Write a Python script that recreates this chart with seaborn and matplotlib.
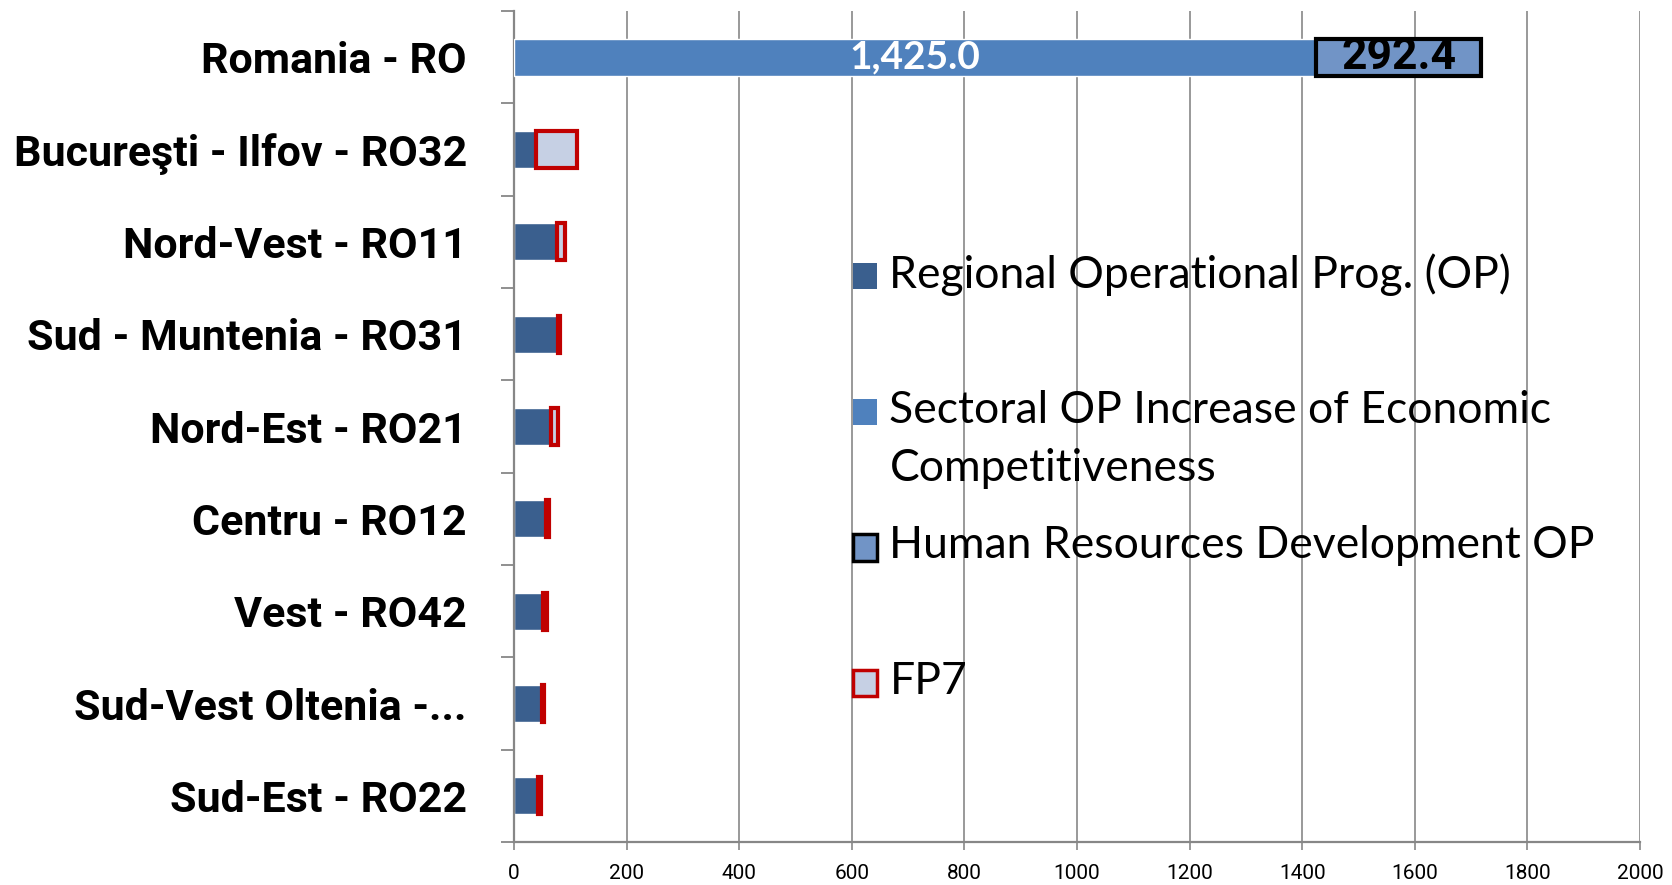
import matplotlib
matplotlib.use("Agg")
import matplotlib.pyplot as plt
from matplotlib.patches import Patch, Rectangle
from matplotlib.legend_handler import HandlerPatch
import numpy as np
import pandas as pd
import seaborn as sns

regions = ["Romania - RO", "Bucureşti - Ilfov - RO32", "Nord-Vest - RO11",
           "Sud - Muntenia - RO31", "Nord-Est - RO21", "Centru - RO12",
           "Vest - RO42", "Sud-Vest Oltenia -...", "Sud-Est - RO22"]
regional_op = [0, 38.5, 77, 78, 65, 56, 52, 49, 43]
sectoral_op = [1425.0, 0, 0, 0, 0, 0, 0, 0, 0]
hrd_op = [292.4, 0, 0, 0, 0, 0, 0, 0, 0]
fp7 = [0, 73, 13.5, 3.5, 13.5, 6, 7, 3.5, 4.8]

series_names = ["Regional Operational Prog. (OP)",
                "Sectoral OP Increase of Economic\nCompetitiveness",
                "Human Resources Development OP",
                "FP7"]
x_ticks = list(range(0, 2001, 200))

C_REG = "#3A5F8E"
C_SECT = "#4F81BD"
C_HRD = "#7194C6"
C_FP7 = "#C6D0E4"
C_RED = "#C00000"
C_GRID = "#878787"

sns.set_theme(style="white")
plt.rcParams["font.family"] = ["Lato", "DejaVu Sans"]
plt.rcParams["text.color"] = "black"
BOLD_FONT = ["Roboto", "DejaVu Sans"]

fig = plt.figure(figsize=(16.72, 8.85), dpi=100)
ax = fig.add_axes([514 / 1672, 1 - 842 / 885, (1640 - 514) / 1672, (842 - 11) / 885])

df = pd.DataFrame({"region": regions, "regional": regional_op})
sns.barplot(data=df, x="regional", y="region", color=C_REG, saturation=1,
            width=0.4, orient="y", ax=ax)

ypos = np.arange(len(regions))
left = np.array(regional_op, dtype=float)

sect = np.array(sectoral_op)
m = sect > 0
bars_s = ax.barh(ypos[m], sect[m], left=left[m], height=0.4, color=C_SECT, zorder=3)
left += sect

hrd = np.array(hrd_op)
m = hrd > 0
bars_h = ax.barh(ypos[m], hrd[m], left=left[m], height=0.4, color=C_HRD,
                 edgecolor="black", linewidth=3, zorder=3)
left += hrd

fp = np.array(fp7)
m = fp > 0
ax.barh(ypos[m], fp[m], left=left[m], height=0.4, color=C_FP7,
        edgecolor=C_RED, linewidth=3, zorder=3)

ax.bar_label(bars_s, labels=[f"{v:,.1f}" for v in sect[sect > 0]], label_type="center",
             color="white", fontweight="bold", fontsize=28)
ax.bar_label(bars_h, labels=[f"{v:.1f}" for v in hrd[hrd > 0]], label_type="center",
             color="black", fontweight="bold", fontsize=32, family=BOLD_FONT)

ax.set_xlim(0, 2000)
ax.set_ylim(len(regions) - 0.5, -0.5)
ax.set_xticks(x_ticks)
ax.set_xlabel("")
ax.set_ylabel("")
ax.xaxis.grid(True, color=C_GRID, linewidth=1.2)
ax.set_axisbelow(True)
for s in ["top", "right"]:
    ax.spines[s].set_visible(False)
for s in ["left", "bottom"]:
    ax.spines[s].set_color(C_GRID)
    ax.spines[s].set_linewidth(1.6)

ax.set_yticks(np.arange(-0.5, len(regions), 1), minor=True)
ax.tick_params(axis="y", which="major", length=0, pad=34, labelsize=31, labelcolor="black")
ax.tick_params(axis="y", which="minor", left=True, length=9.5, width=1.3, color=C_GRID)
ax.tick_params(axis="x", which="major", bottom=True, length=6, width=1.2, color=C_GRID,
               pad=10, labelsize=15, labelcolor="black")
for lab in ax.get_yticklabels():
    lab.set_family(BOLD_FONT)
    lab.set_fontweight("bold")
for lab in ax.get_xticklabels():
    lab.set_family(BOLD_FONT)


def shifted_square(legend, orig_handle, xdescent, ydescent, width, height, fontsize):
    return Rectangle((-xdescent, -ydescent + 0.63 * fontsize), width, height)


handles = [Patch(facecolor=C_REG, edgecolor="none"),
           Patch(facecolor=C_SECT, edgecolor="none"),
           Patch(facecolor=C_HRD, edgecolor="black", linewidth=2.5),
           Patch(facecolor=C_FP7, edgecolor=C_RED, linewidth=2.5)]
labels = [n if "\n" in n else n + "\n" for n in series_names]
leg = fig.legend(handles, labels, loc="upper left", bbox_to_anchor=(853 / 1672, 1 - 253 / 885),
                 frameon=False, fontsize=32, handlelength=0.53, handleheight=0.53,
                 handletextpad=0.29, labelspacing=0.83, borderpad=0, borderaxespad=0,
                 handler_map={Patch: HandlerPatch(patch_func=shifted_square)})
for t in leg.get_texts():
    t.set_linespacing(1.5)

fig.savefig("out.png", dpi=100)
